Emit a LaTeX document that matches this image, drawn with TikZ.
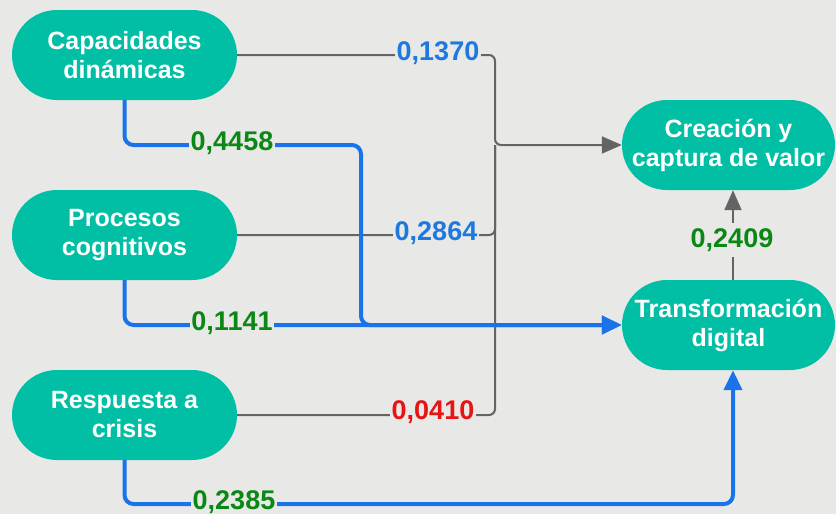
\documentclass[tikz,border=0pt]{standalone}
\usepackage{fontspec}
\setmainfont{Liberation Sans}
\usetikzlibrary{arrows.meta}
\definecolor{bgc}{RGB}{232,233,230}
\definecolor{teal}{RGB}{0,191,165}
\definecolor{lineblue}{RGB}{26,115,232}
\definecolor{labblue}{RGB}{30,120,225}
\definecolor{labgreen}{RGB}{10,135,20}
\definecolor{labred}{RGB}{232,20,20}
\definecolor{linegray}{RGB}{100,100,100}
\tikzset{
  box/.style={draw=none, fill=teal, text=white, rounded corners=45pt,
    minimum width=225pt, minimum height=90pt, align=center,
    font=\fontsize{25}{29}\selectfont\bfseries, inner sep=0pt},
  rbox/.style={box, minimum width=213pt},
  grayline/.style={draw=linegray, line width=2pt, rounded corners=6pt},
  blueline/.style={draw=lineblue, line width=4pt, rounded corners=9pt},
  garrow/.style={-{Triangle[length=20pt,width=17pt]}},
  barrow/.style={-{Triangle[length=20pt,width=18pt]}},
  lbl/.style={fill=bgc, inner xsep=1.5pt, inner ysep=1pt,
    font=\fontsize{27}{30}\selectfont\bfseries}
}
\begin{document}
\begin{tikzpicture}[x=1pt,y=-1pt]
\fill[bgc] (0,0) rectangle (836,514);
\useasboundingbox (0,0) rectangle (836,514);

\node[box] (cd) at (124.5,55) {Capacidades\\dinámicas};
\node[box] (pc) at (124.5,235) {Procesos\\cognitivos};
\node[box] (rc) at (124.5,415) {Respuesta a\\crisis};
\node[rbox] (cv) at (728.5,145) {Creación y\\captura de valor};
\node[rbox] (td) at (728.5,325) {Transformación\\digital};

\coordinate (j) at (495,145);
\coordinate (b1) at (361,145);
\coordinate (b3) at (733,504);

% gray connectors to Creacion
\draw[grayline,garrow] (cd.east) -| (j) -- (cv.west);
\draw[grayline] (pc.east) -| (j);
\draw[grayline] (rc.east) -| (j);

% blue connectors to Transformacion
\draw[blueline,barrow] (cd.south) |- (b1) |- (td.west);
\draw[blueline,barrow] (pc.south) |- (td.west);
\draw[blueline,barrow] (rc.south) |- (b3) -- ([xshift=4.5pt]td.south);

% Transformacion -> Creacion
\draw[grayline,garrow] ([xshift=4.5pt]td.north) -- ([xshift=4.5pt]cv.south);

% labels
\node[lbl, text=labblue] (l1) at (438,53) {0,1370};
\node[lbl, text=labblue] (l2) at (436,233) {0,2864};
\node[lbl, text=labred] (l3) at (433,412) {0,0410};
\node[lbl, text=labgreen] (l4) at (232,143) {0,4458};
\node[lbl, text=labgreen] (l5) at (232,323) {0,1141};
\node[lbl, text=labgreen] (l6) at (234,502) {0,2385};
\node[lbl, text=labgreen, inner ysep=5pt] (l7) at (732,240) {0,2409};
\end{tikzpicture}
\end{document}
